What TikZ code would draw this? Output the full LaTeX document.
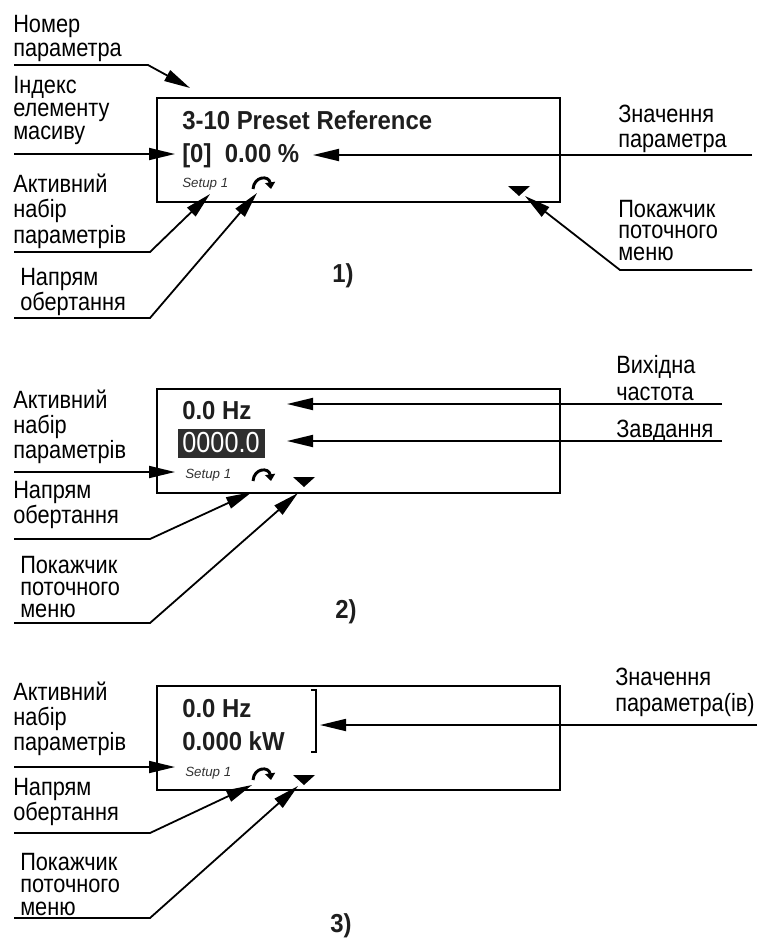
\documentclass[tikz,border=0pt]{standalone}
\usepackage{fontspec}
\setmainfont{Liberation Sans}
\newfontfamily\lblf[FakeStretch=0.87]{Liberation Sans}
\newfontfamily\dispf[FakeStretch=0.92]{Liberation Sans}
\usetikzlibrary{arrows.meta}
\definecolor{ink}{HTML}{1E1E1E}
\definecolor{lcd}{HTML}{2E2E2E}
\begin{document}
\begin{tikzpicture}[x=0.75pt,y=-0.75pt,
  lbl/.style={anchor=base west, inner sep=0pt, font=\lblf\fontsize{18.75pt}{20pt}\selectfont},
  disp/.style={anchor=base west, inner sep=0pt, text=ink, font=\dispf\bfseries\fontsize{19.5pt}{20pt}\selectfont},
  setup/.style={anchor=base west, inner sep=0pt, text=black!80, font=\itshape\fontsize{10pt}{11pt}\selectfont},
  panel/.style={draw, line width=1.5pt, minimum width=302.25pt, minimum height=78pt, inner sep=0pt},
  conn/.style={line width=1.35pt, -{Triangle[length=19.5pt,width=9pt]}},
  lcdbox/.style={fill=lcd, text=white, minimum width=65.25pt, minimum height=21.75pt, inner sep=0pt, font=\lblf\fontsize{21.75pt}{22pt}\selectfont},
  rotarr/.pic={\draw[line width=2.2pt, -{Triangle[length=5pt,width=7.5pt]}] (1,12) .. controls (2,-1) and (17,-2) .. (19,12);},
  menutri/.pic={\fill (0,0) -- (22,0) -- (11,10) -- cycle;}
]
\path[use as bounding box] (0,0) rectangle (764,939);

% ---------------- Panel 1 ----------------
\node[panel] (p1) at (358.5,150) {};
\node[disp] (t1) at (182,129) {3-10 Preset Reference};
\node[disp] (v1) at (182,162) {[0]\ \ 0.00 \%};
\node[setup] (s1) at (182,187) {Setup 1};
\pic at (252,177) {rotarr};
\pic at (508,186) {menutri};
\node[disp] (n1) at (332,282) {1)};

\node[lbl] (a1) at (13,32) {Номер};
\node[lbl] (a1x) at (13,56) {параметра};
\node[lbl] (b1) at (13,93) {Індекс};
\node[lbl] (b1x) at (13,116) {елементу};
\node[lbl] (b1y) at (13,139) {масиву};
\node[lbl] (c1) at (13,192) {Активний};
\node[lbl] (c1x) at (13,217.5) {набір};
\node[lbl] (c1y) at (13,243) {параметрів};
\node[lbl] (d1) at (20,285) {Напрям};
\node[lbl] (d1x) at (20,310) {обертання};
\node[lbl] (e1) at (618,122) {Значення};
\node[lbl] (e1x) at (618,147) {параметра};
\node[lbl] (f1) at (618,217) {Покажчик};
\node[lbl] (f1x) at (618,238.5) {поточного};
\node[lbl] (f1y) at (618,260) {меню};

\coordinate (a1s) at (14,65);  \coordinate (a1b) at (148,65);  \coordinate (a1t) at (190,88);
\coordinate (b1s) at (14,154); \coordinate (b1t) at (175,154);
\coordinate (c1s) at (14,252); \coordinate (c1b) at (150,252); \coordinate (c1t) at (210,194);
\coordinate (d1s) at (14,318); \coordinate (d1b) at (150,318); \coordinate (d1t) at (257,193);
\coordinate (e1s) at (752,155); \coordinate (e1t) at (313,155);
\coordinate (f1s) at (752,270); \coordinate (f1b) at (620,270); \coordinate (f1t) at (525,196);
\draw[conn] (a1s) -- (a1b) -- (a1t);
\draw[conn] (b1s) -- (b1t);
\draw[conn] (c1s) -- (c1b) -- (c1t);
\draw[conn] (d1s) -- (d1b) -- (d1t);
\draw[conn] (e1s) -- (e1t);
\draw[conn] (f1s) -- (f1b) -- (f1t);

% ---------------- Panel 2 ----------------
\node[panel] (p2) at (358.5,441) {};
\node[disp] (t2) at (182,419) {0.0 Hz};
\node[lcdbox] (r2) at (221,443) {0000.0};
\node[setup] (s2) at (185,478) {Setup 1};
\pic at (252,469) {rotarr};
\pic at (293,477) {menutri};
\node[disp] (n2) at (335,618) {2)};

\node[lbl] (c2) at (13,408) {Активний};
\node[lbl] (c2x) at (13,433) {набір};
\node[lbl] (c2y) at (13,458) {параметрів};
\node[lbl] (d2) at (13,498) {Напрям};
\node[lbl] (d2x) at (13,523) {обертання};
\node[lbl] (f2) at (20,573) {Покажчик};
\node[lbl] (f2x) at (20,595) {поточного};
\node[lbl] (f2y) at (20,617) {меню};
\node[lbl] (g2) at (616,373) {Вихідна};
\node[lbl] (g2x) at (616,400) {частота};
\node[lbl] (h2) at (616,437) {Завдання};

\coordinate (c2s) at (14,472); \coordinate (c2t) at (175,472);
\coordinate (d2s) at (14,539); \coordinate (d2b) at (150,539); \coordinate (d2t) at (252,492);
\coordinate (f2s) at (14,623); \coordinate (f2b) at (150,623); \coordinate (f2t) at (298,493);
\coordinate (g2s) at (722,404); \coordinate (g2t) at (287,404);
\coordinate (h2s) at (722,441); \coordinate (h2t) at (287,441);
\draw[conn] (c2s) -- (c2t);
\draw[conn] (d2s) -- (d2b) -- (d2t);
\draw[conn] (f2s) -- (f2b) -- (f2t);
\draw[conn] (g2s) -- (g2t);
\draw[conn] (h2s) -- (h2t);

% ---------------- Panel 3 ----------------
\node[panel] (p3) at (358.5,738) {};
\node[disp] (t3) at (182,717) {0.0 Hz};
\node[disp] (u3) at (182,750) {0.000 kW};
\draw[line width=1.2pt] (311,690) -- (316,690) -- (316,752) -- (311,752);
\node[setup] (s3) at (185,776) {Setup 1};
\pic at (252,768) {rotarr};
\pic at (293,775) {menutri};
\node[disp] (n3) at (330,932) {3)};

\node[lbl] (c3) at (13,700) {Активний};
\node[lbl] (c3x) at (13,725) {набір};
\node[lbl] (c3y) at (13,750) {параметрів};
\node[lbl] (d3) at (13,795) {Напрям};
\node[lbl] (d3x) at (13,820) {обертання};
\node[lbl] (f3) at (20,870) {Покажчик};
\node[lbl] (f3x) at (20,892.5) {поточного};
\node[lbl] (f3y) at (20,915) {меню};
\node[lbl] (e3) at (615,685) {Значення};
\node[lbl] (e3x) at (615,711) {параметра(ів)};

\coordinate (c3s) at (14,767); \coordinate (c3t) at (175,767);
\coordinate (d3s) at (14,833); \coordinate (d3b) at (150,833); \coordinate (d3t) at (252,785);
\coordinate (f3s) at (14,918); \coordinate (f3b) at (150,918); \coordinate (f3t) at (298,786);
\coordinate (e3s) at (757,725); \coordinate (e3t) at (320,725);
\draw[conn] (c3s) -- (c3t);
\draw[conn] (d3s) -- (d3b) -- (d3t);
\draw[conn] (f3s) -- (f3b) -- (f3t);
\draw[conn] (e3s) -- (e3t);
\end{tikzpicture}
\end{document}
